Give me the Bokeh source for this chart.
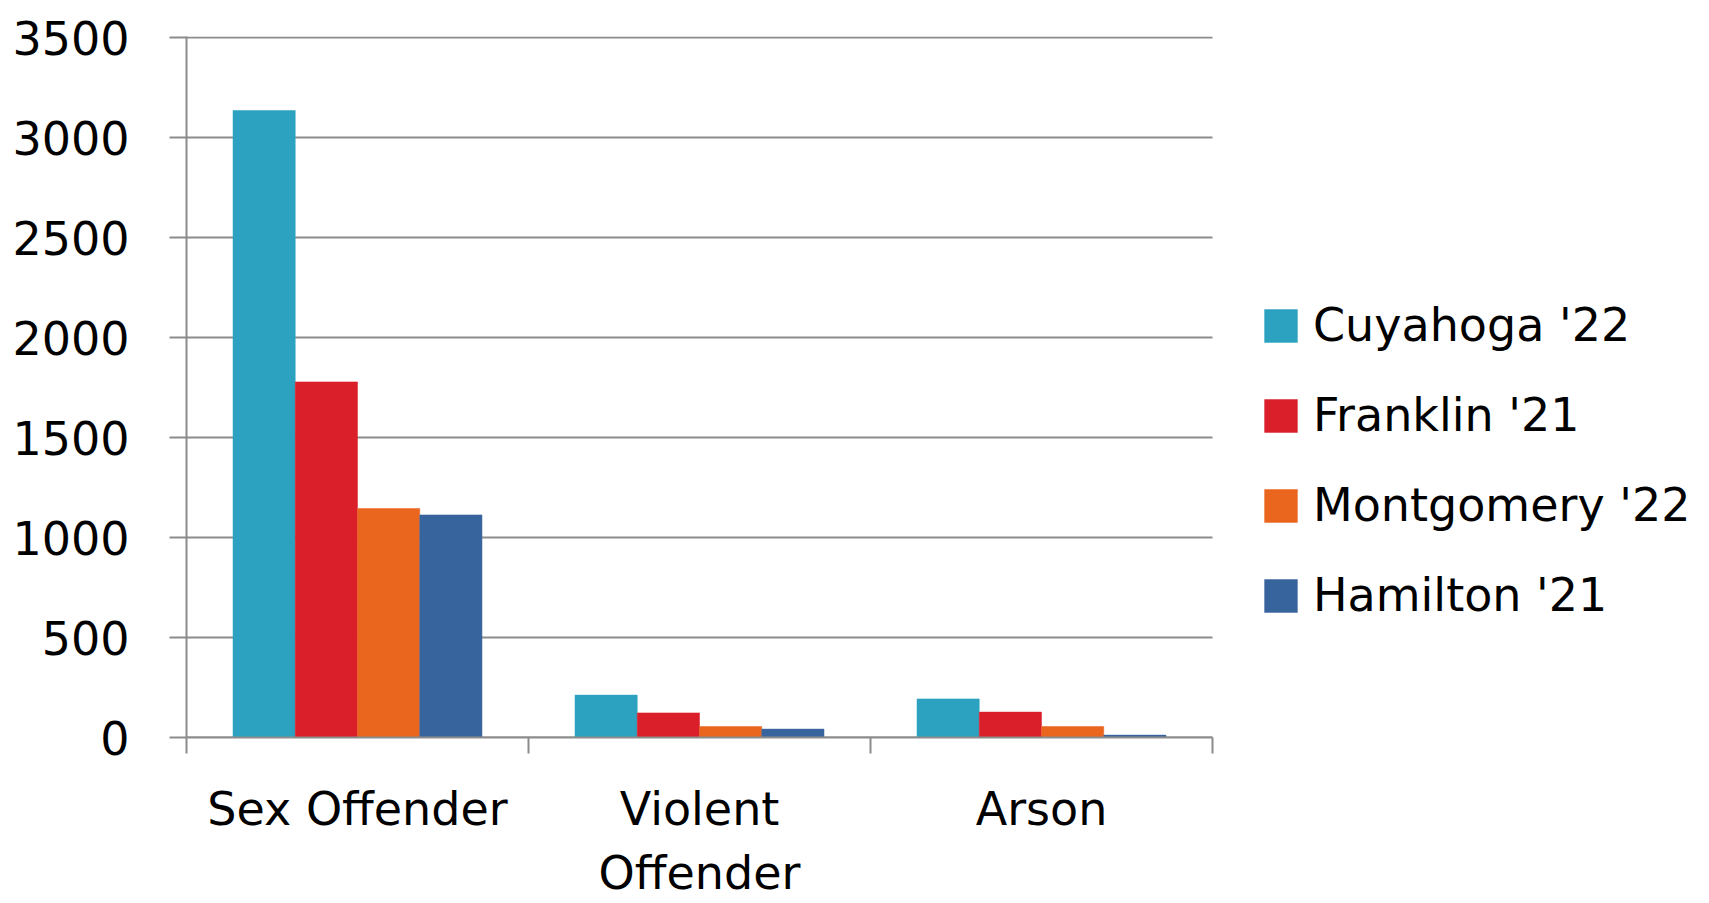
from bokeh.plotting import figure
from bokeh.models import (ColumnDataSource, Range1d, FixedTicker, Legend, LegendItem)
from bokeh.embed import file_html
from bokeh.resources import INLINE

categories = ["Sex Offender", "Violent\nOffender", "Arson"]
series_names = ["Cuyahoga '22", "Franklin '21", "Montgomery '22", "Hamilton '21"]
cuyahoga = [3135, 212, 193]
franklin = [1778, 123, 127]
montgomery = [1145, 55, 55]
hamilton = [1113, 42, 12]
colors = ["#2CA2C0", "#DA1F2A", "#EA651E", "#38649E"]
y_ticks = [0, 500, 1000, 1500, 2000, 2500, 3000, 3500]

FONT = "DejaVu Sans"
GRID = "#8C8C8C"

# layout: plot frame spans to the right edge so the legend sits inside it
W, H = 1700, 903
LEFT = 186
PX_PER_CAT = 342
frame_w = W - LEFT
x_end = frame_w / PX_PER_CAT
n = len(categories)

p = figure(width=W, height=H, output_backend="svg", toolbar_location=None,
           x_range=Range1d(0, x_end), y_range=Range1d(0, 3505),
           min_border_left=LEFT, min_border_right=0, min_border_top=36,
           min_border_bottom=166)
p.outline_line_color = None
p.background_fill_color = "white"
p.border_fill_color = "white"

# horizontal grid lines only over the category area
gsrc = ColumnDataSource(dict(x0=[0] * len(y_ticks), x1=[n] * len(y_ticks),
                             y=y_ticks))
p.segment(x0="x0", x1="x1", y0="y", y1="y", source=gsrc,
          line_color=GRID, line_width=2)

centers = [i + 0.5 for i in range(n)]
bar_w = 0.182
offsets = [-0.273, -0.091, 0.091, 0.273]
all_series = [cuyahoga, franklin, montgomery, hamilton]

items = []
for name, vals, off, col in zip(series_names, all_series, offsets, colors):
    src = ColumnDataSource(dict(x=[c + off for c in centers], top=vals))
    r = p.vbar(x="x", top="top", width=bar_w, bottom=0, source=src,
               fill_color=col, line_color=col, line_width=0.5)
    items.append(LegendItem(label=name, renderers=[r]))

# axes
xa = p.xaxis[0]
xa.bounds = (0, n)
xa.ticker = FixedTicker(ticks=centers, minor_ticks=list(range(n + 1)))
xa.major_label_overrides = {c: lab for c, lab in zip(centers, categories)}
xa.major_tick_line_color = None
xa.minor_tick_line_color = GRID
xa.minor_tick_line_width = 2
xa.minor_tick_in = 0
xa.minor_tick_out = 16
xa.axis_line_color = GRID
xa.axis_line_width = 2
xa.major_label_text_font = FONT
xa.major_label_text_font_size = "46px"
xa.major_label_text_color = "black"
xa.major_label_standoff = 28

ya = p.yaxis[0]
ya.ticker = FixedTicker(ticks=y_ticks, minor_ticks=[])
ya.major_tick_line_color = GRID
ya.major_tick_line_width = 2
ya.major_tick_in = 0
ya.major_tick_out = 17
ya.minor_tick_line_color = None
ya.axis_line_color = GRID
ya.axis_line_width = 2
ya.major_label_text_font = FONT
ya.major_label_text_font_size = "46px"
ya.major_label_text_color = "black"
ya.major_label_standoff = 40

p.xgrid.grid_line_color = None
p.ygrid.grid_line_color = None

legend = Legend(items=items, location=(1074, 115))
legend.label_text_font = FONT
legend.label_text_font_size = "46px"
legend.label_text_color = "black"
legend.glyph_width = 41
legend.glyph_height = 41
legend.label_standoff = 12
legend.spacing = 36
legend.padding = 0
legend.margin = 0
legend.border_line_color = None
legend.background_fill_alpha = 0
p.add_layout(legend, "center")

open("out.html", "w").write(file_html(p, INLINE))
